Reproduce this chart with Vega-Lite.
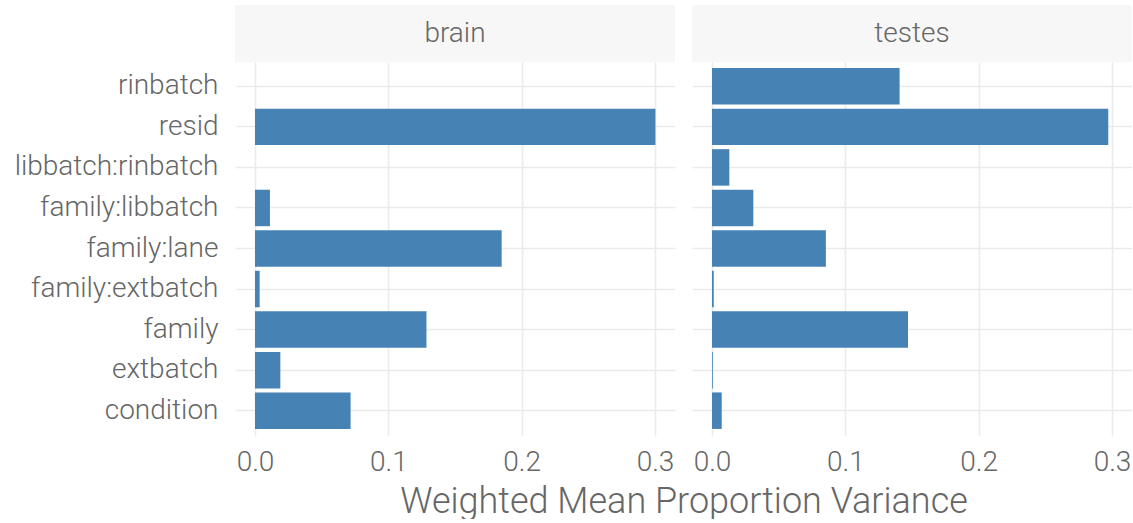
{
  "$schema": "https://vega.github.io/schema/vega-lite/v6.json",
  "background": "white",
  "padding": {"left": 14, "top": 5, "right": 0, "bottom": 0},
  "datasets": {
    "vp": [
      {"tissue": "brain", "term": "rinbatch", "value": 0.0},
      {"tissue": "brain", "term": "resid", "value": 0.3003},
      {"tissue": "brain", "term": "libbatch:rinbatch", "value": 0.0},
      {"tissue": "brain", "term": "family:libbatch", "value": 0.0112},
      {"tissue": "brain", "term": "family:lane", "value": 0.185},
      {"tissue": "brain", "term": "family:extbatch", "value": 0.0035},
      {"tissue": "brain", "term": "family", "value": 0.1286},
      {"tissue": "brain", "term": "extbatch", "value": 0.019},
      {"tissue": "brain", "term": "condition", "value": 0.0717},
      {"tissue": "testes", "term": "rinbatch", "value": 0.1407},
      {"tissue": "testes", "term": "resid", "value": 0.2972},
      {"tissue": "testes", "term": "libbatch:rinbatch", "value": 0.013},
      {"tissue": "testes", "term": "family:libbatch", "value": 0.031},
      {"tissue": "testes", "term": "family:lane", "value": 0.0854},
      {"tissue": "testes", "term": "family:extbatch", "value": 0.0013},
      {"tissue": "testes", "term": "family", "value": 0.147},
      {"tissue": "testes", "term": "extbatch", "value": 0.0006},
      {"tissue": "testes", "term": "condition", "value": 0.0073}
    ],
    "strips": [
      {"tissue": "brain"},
      {"tissue": "testes"}
    ]
  },
  "columns": 2,
  "bounds": "flush",
  "spacing": {"row": 0, "column": 17},
  "concat": [
    {
      "width": 440,
      "height": 57,
      "view": {"fill": "#f7f7f7", "stroke": null},
      "data": {"name": "strips"},
      "transform": [{"filter": "datum.tissue === 'brain'"}],
      "mark": {"type": "text", "font": "Roboto", "fontSize": 28, "fontWeight": 300, "color": "#666666"},
      "encoding": {"text": {"field": "tissue", "type": "nominal"}}
    },
    {
      "width": 440,
      "height": 57,
      "view": {"fill": "#f7f7f7", "stroke": null},
      "data": {"name": "strips"},
      "transform": [{"filter": "datum.tissue === 'testes'"}],
      "mark": {"type": "text", "font": "Roboto", "fontSize": 28, "fontWeight": 300, "color": "#666666"},
      "encoding": {"text": {"field": "tissue", "type": "nominal"}}
    },
    {
      "width": 440,
      "height": 373,
      "data": {"name": "vp"},
      "transform": [{"filter": "datum.tissue === 'brain'"}],
      "mark": {"type": "bar", "color": "#4682b4"},
      "encoding": {
        "y": {
          "field": "term", "type": "nominal",
          "sort": ["rinbatch", "resid", "libbatch:rinbatch", "family:libbatch", "family:lane", "family:extbatch", "family", "extbatch", "condition"],
          "scale": {"paddingInner": 0.1, "paddingOuter": 0.15},
          "axis": {"title": null, "bandPosition": 0.5, "grid": true, "ticks": false, "domain": false, "labelPadding": 17, "labelLimit": 0}
        },
        "x": {
          "field": "value", "type": "quantitative",
          "scale": {"domain": [-0.015, 0.315], "nice": false},
          "axis": {
            "title": "Weighted Mean Proportion Variance",
            "titleX": 448.5,
            "titlePadding": 8,
            "titleFont": "Roboto", "titleFontSize": 36, "titleFontWeight": 300, "titleColor": "#666666",
            "values": [0, 0.1, 0.2, 0.3], "format": ".1f", "grid": true, "ticks": false, "domain": false, "labelPadding": 13
          }
        }
      }
    },
    {
      "width": 440,
      "height": 373,
      "data": {"name": "vp"},
      "transform": [{"filter": "datum.tissue === 'testes'"}],
      "mark": {"type": "bar", "color": "#4682b4"},
      "encoding": {
        "y": {
          "field": "term", "type": "nominal",
          "sort": ["rinbatch", "resid", "libbatch:rinbatch", "family:libbatch", "family:lane", "family:extbatch", "family", "extbatch", "condition"],
          "scale": {"paddingInner": 0.1, "paddingOuter": 0.15},
          "axis": {"title": null, "bandPosition": 0.5, "grid": true, "ticks": false, "domain": false, "labels": false}
        },
        "x": {
          "field": "value", "type": "quantitative",
          "scale": {"domain": [-0.015, 0.315], "nice": false},
          "axis": {"title": null, "values": [0, 0.1, 0.2, 0.3], "format": ".1f", "grid": true, "ticks": false, "domain": false, "labelPadding": 13}
        }
      }
    }
  ],
  "config": {
    "view": {"stroke": null},
    "axis": {
      "gridColor": "#ebebeb",
      "gridWidth": 1.6,
      "labelColor": "#666666",
      "labelFont": "Roboto",
      "labelFontSize": 28,
      "labelFontWeight": 300
    }
  }
}
